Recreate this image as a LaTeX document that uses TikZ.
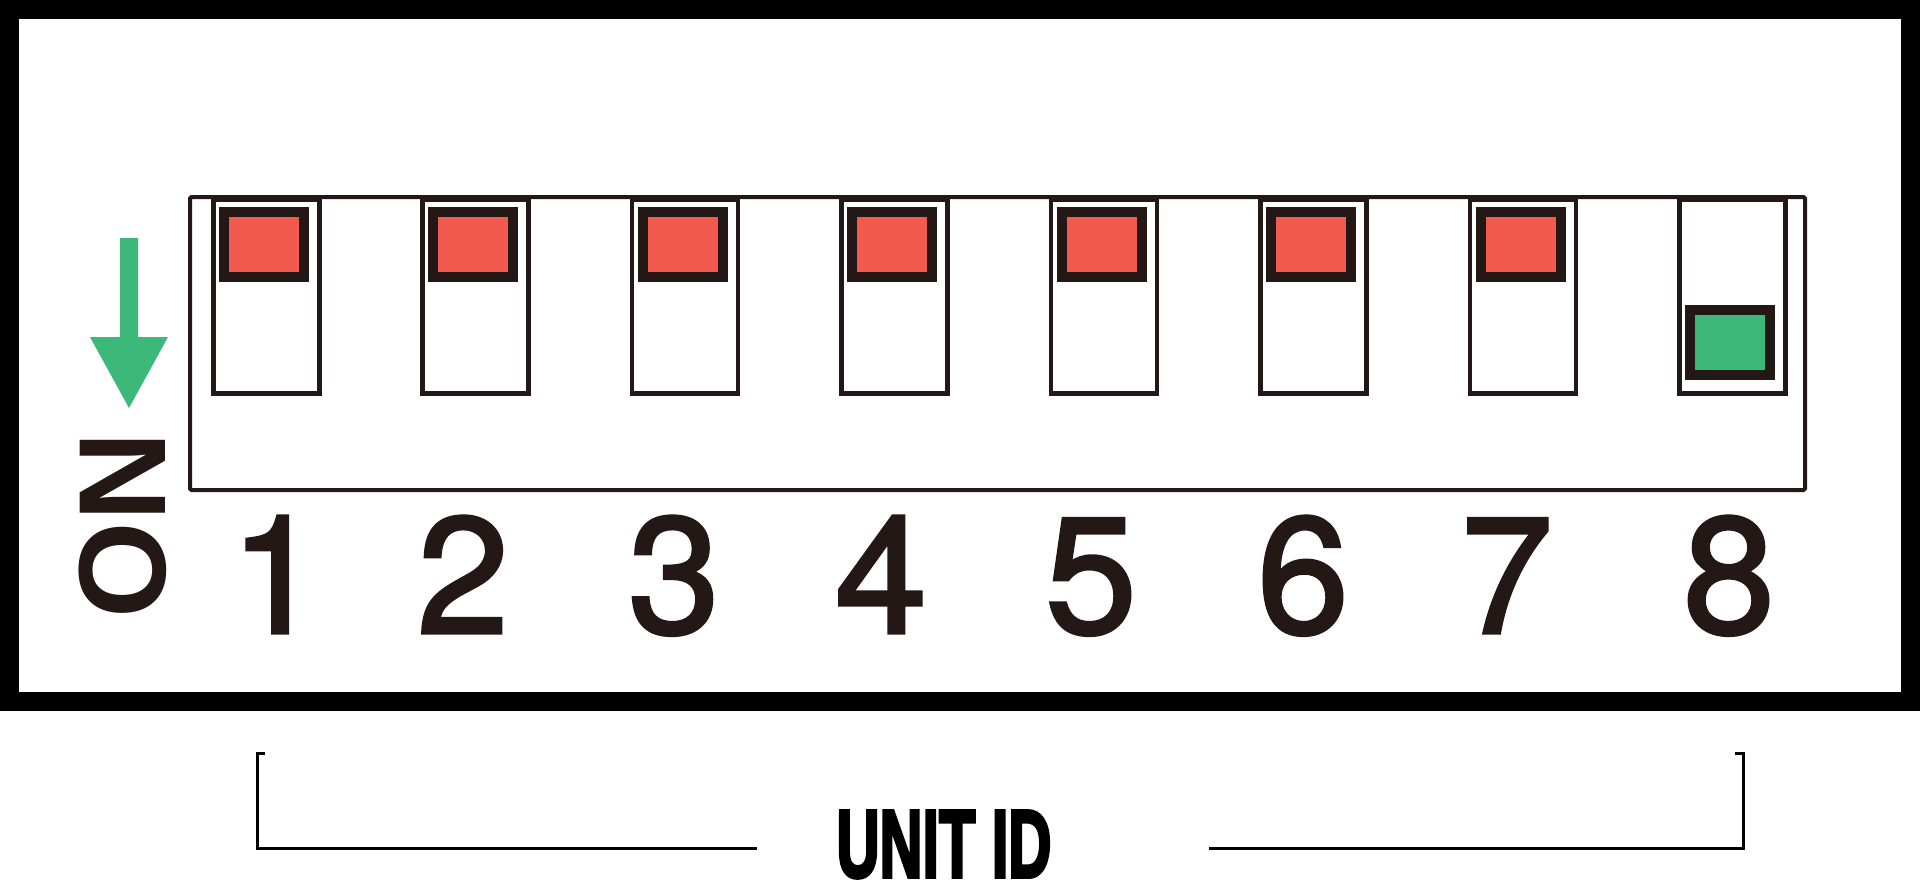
\documentclass[tikz,border=0pt]{standalone}
\usepackage{fontspec}
\usepackage{graphicx}
\setmainfont{Liberation Sans}
\newfontfamily\digitfont[FakeBold=2]{TeX Gyre Heros}
\newfontfamily\labelfont[UprightFont={* Bold},FakeBold=4]{Liberation Sans}
\definecolor{ink}{HTML}{231815}
\definecolor{knobred}{HTML}{F25A50}
\definecolor{knobgreen}{HTML}{3CB878}
\begin{document}
\begin{tikzpicture}[x=1pt,y=-1pt,
  housing/.style={draw=ink,line width=4pt,rounded corners=1.5pt},
  slot/.style={draw=ink,line width=4.5pt,fill=white,minimum width=106pt,minimum height=194pt,inner sep=0pt,anchor=north west},
  knob/.style={draw=ink,line width=10pt,minimum width=80pt,minimum height=65pt,inner sep=0pt},
  offknob/.style={knob,fill=knobred},
  onknob/.style={knob,fill=knobgreen},
  digit/.style={text=ink,font=\fontsize{165}{165}\selectfont\digitfont,anchor=base,inner sep=0pt},
  bracket/.style={draw=black,line width=3pt},
]
\useasboundingbox (0,0) rectangle (1920,894);
\fill[white] (0,0) rectangle (1920,894);
% outer frame
\fill[black] (0,0) rectangle (1920,711);
\fill[white] (19,19) rectangle (1901,692);
% housing
\draw[housing] (190,197) rectangle (1805,490);
% slots
\foreach \i in {1,...,8}{
  \pgfmathsetmacro{\xl}{211+(\i-1)*209.45}
  \node[slot] (slot\i) at (\xl,197) {};
}
\foreach \i in {1,...,7}{
  \node[offknob] (knob\i) at ([xshift=53pt,yshift=-47.5pt]slot\i.north west) {};
}
\node[onknob] (knob8) at ([xshift=53pt,yshift=-145pt]slot8.north west) {};
% ON arrow
\fill[knobgreen] (120,238) -- (138,238) -- (138,337) -- (168,337) -- (129,408) -- (90,337) -- (120,337) -- cycle;
\node[rotate=90,text=ink,font=\fontsize{124}{124}\selectfont\bfseries,inner sep=0pt] (on) at (122.5,525) {ON};
% digits
\node[digit] (n1) at (276,633) {1};
\node[digit] (n2) at (463,633) {2};
\node[digit] (n3) at (674,633) {3};
\node[digit] (n4) at (881,633) {4};
\node[digit] (n5) at (1091,633) {5};
\node[digit] (n6) at (1303,633) {6};
\node[digit] (n7) at (1507,633) {7};
\node[digit] (n8) at (1729,633) {8};
% UNIT ID label and bracket
\node[font=\fontsize{96}{96}\selectfont\labelfont,inner sep=0pt,anchor=base] (unitid) at (944,877) {\scalebox{0.62}[1]{UNIT ID}};
\coordinate (lt) at (265,753);
\coordinate (lc) at (257,753);
\coordinate (lb) at (257,848);
\coordinate (le) at (757,848);
\coordinate (rt) at (1735,753);
\coordinate (rc) at (1743,753);
\coordinate (rb) at (1743,848);
\coordinate (rs) at (1209,848);
\draw[bracket] (lt) -- (lc) -- (lb) -- (le);
\draw[bracket] (rs) -- (rb) -- (rc) -- (rt);
\end{tikzpicture}
\end{document}
